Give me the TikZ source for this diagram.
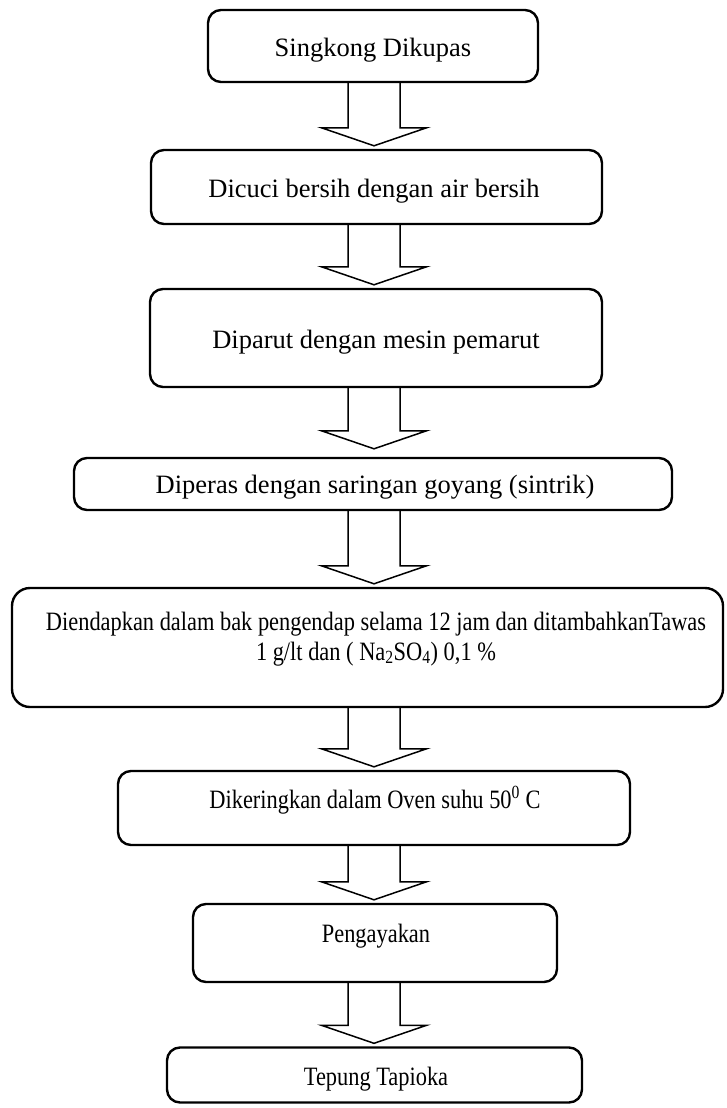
\documentclass[tikz,border=0pt]{standalone}
\usepackage{fontspec}
\setmainfont{Liberation Serif}
\newfontfamily\condfont[FakeStretch=0.845]{Liberation Serif}
\usetikzlibrary{calc}
\begin{document}
\begin{tikzpicture}[x=1pt,y=-1pt,
  flowbox/.style={draw=black, line width=2.4pt, rounded corners=13pt, inner sep=0pt, minimum width=#1},
  arrowline/.style={draw=black, line width=1.5pt, line join=miter},
  txt/.style={anchor=base, inner sep=0pt, font=\fontsize{26.5}{30}\selectfont},
  ctxt/.style={anchor=base, inner sep=0pt, align=center, font=\condfont\fontsize{26.5}{30}\selectfont}]
\useasboundingbox (0,0) rectangle (726,1108);
\newcommand\flowarrow[3][3]{%
  \draw[arrowline] let \p1=(#2.south), \p2=(#3.north) in
    (348pt,\y1) -- (348pt,\y2+#1pt+18pt) -- (321.5pt,\y2+#1pt+18pt) -- (374pt,\y2+#1pt)
    -- (426.5pt,\y2+#1pt+18pt) -- (400pt,\y2+#1pt+18pt) -- (400pt,\y1);}
% boxes
\node[flowbox=330pt, minimum height=72pt] (b1) at (373,46) {};
\node[flowbox=451pt, minimum height=74pt] (b2) at (376.5,187) {};
\node[flowbox=452pt, minimum height=98pt] (b3) at (376,338) {};
\node[flowbox=598pt, minimum height=52pt] (b4) at (373,484) {};
\node[flowbox=711pt, minimum height=119pt, rounded corners=18pt] (b5) at (367.5,647.5) {};
\node[flowbox=512pt, minimum height=74pt] (b6) at (374,808) {};
\node[flowbox=364pt, minimum height=78pt] (b7) at (375,943) {};
\node[flowbox=415pt, minimum height=55pt] (b8) at (374.5,1075) {};
% texts
\node[txt] (t1) at (373,57) {Singkong Dikupas};
\node[txt] (t2) at (374,197) {Dicuci bersih dengan air bersih};
\node[txt] (t3) at (376,348) {Diparut dengan mesin pemarut};
\node[txt] (t4) at (375,493) {Diperas dengan saringan goyang (sintrik)};
\node[ctxt] (t5) at (376,660) {Diendapkan dalam bak pengendap selama 12 jam dan ditambahkanTawas\\1 g/lt dan ( Na\textsubscript{2}SO\textsubscript{4}) 0,1 \%};
\node[ctxt] (t6) at (375,808) {Dikeringkan dalam Oven suhu 50\textsuperscript{0} C};
\node[ctxt] (t7) at (376,942) {Pengayakan};
\node[ctxt] (t8) at (376,1085) {Tepung Tapioka};
% arrows
\flowarrow{b1}{b2}
\flowarrow{b2}{b3}
\flowarrow[8]{b3}{b4}
\flowarrow{b4}{b5}
\flowarrow{b5}{b6}
\flowarrow{b6}{b7}
\flowarrow{b7}{b8}
\end{tikzpicture}
\end{document}
